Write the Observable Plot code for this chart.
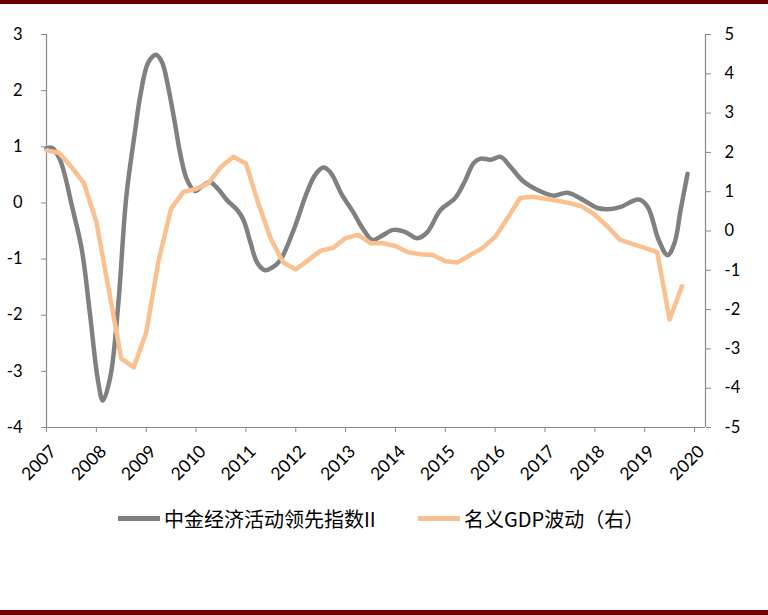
<!DOCTYPE html>
<html><head><meta charset="utf-8">
<script src="https://cdn.jsdelivr.net/npm/d3@7"></script>
<script src="https://cdn.jsdelivr.net/npm/@observablehq/plot@0.6"></script>
<style>
body{margin:0;background:#fff;}
#wrap{position:relative;width:768px;height:615px;overflow:hidden;background:#fff;}
.bar{position:absolute;left:0;width:768px;background:#6b0000;}
#chart{position:absolute;left:0;top:0;}
#legend{position:absolute;top:505px;left:0;width:768px;height:26px;font-family:"Noto Sans CJK SC",sans-serif;font-size:20px;color:#000;}
.item{position:absolute;top:0;display:flex;align-items:center;height:26px;white-space:nowrap;}
.sw{width:42px;height:5px;margin-right:4px;}
</style></head>
<body><div id="wrap"><div id="chart"></div><div id="legend"></div>
<div class="bar" style="top:0;height:4px"></div><div class="bar" style="top:610px;height:5px"></div></div>
<script>
// 中金经济活动领先指数II (left axis)
const leadYears = [2007.00,2007.11,2007.27,2007.53,2007.71,2007.87,2008.03,2008.13,2008.28,2008.44,2008.60,2008.78,2008.88,2009.04,2009.20,2009.32,2009.44,2009.58,2009.68,2009.82,2009.98,2010.12,2010.28,2010.44,2010.62,2010.83,2010.95,2011.09,2011.23,2011.39,2011.53,2011.69,2011.95,2012.23,2012.39,2012.55,2012.69,2012.93,2013.15,2013.34,2013.54,2013.70,2013.96,2014.20,2014.44,2014.64,2014.90,2015.20,2015.40,2015.57,2015.71,2015.91,2016.11,2016.31,2016.57,2016.85,2017.17,2017.45,2017.77,2018.05,2018.32,2018.52,2018.88,2019.06,2019.28,2019.46,2019.60,2019.72,2019.86];
const leadValues = [0.97,0.98,0.77,-0.13,-0.84,-1.96,-3.15,-3.52,-3.1,-1.8,0.1,1.3,1.9,2.5,2.64,2.5,2.07,1.4,0.89,0.41,0.21,0.30,0.37,0.25,0.05,-0.13,-0.3,-0.7,-1.07,-1.2,-1.15,-1.02,-0.5,0.2,0.5,0.63,0.55,0.14,-0.16,-0.45,-0.66,-0.60,-0.48,-0.52,-0.63,-0.52,-0.13,0.09,0.40,0.71,0.79,0.77,0.82,0.64,0.38,0.23,0.13,0.18,0.05,-0.09,-0.11,-0.07,0.06,-0.07,-0.66,-0.93,-0.71,-0.13,0.52];
// 名义GDP波动（右） quarterly 2007Q1–2019Q4 (right axis)
const gdpQuarters = d3.range(2007, 2020).flatMap(y => [1,2,3,4].map(q => `${y}Q${q}`));
const gdpValues = [2.05,1.99,1.63,1.22,0.23,-1.5,-3.24,-3.47,-2.58,-0.75,0.57,1.0,1.07,1.22,1.63,1.89,1.72,0.7,-0.2,-0.8,-0.98,-0.74,-0.5,-0.43,-0.18,-0.10,-0.31,-0.31,-0.38,-0.54,-0.59,-0.61,-0.77,-0.80,-0.61,-0.43,-0.15,0.33,0.84,0.87,0.82,0.77,0.71,0.62,0.41,0.12,-0.22,-0.33,-0.43,-0.54,-2.25,-1.4];
const xTicks = d3.range(2007, 2021);
const leftTicks = d3.range(-4, 4);
const rightTicks = d3.range(-5, 6);
const seriesNames = ["中金经济活动领先指数II", "名义GDP波动（右）"];
const seriesColors = ["#808080", "#fac090"];

const toLeft = v => -4 + (v + 5) * 0.7;
const toRight = l => (l + 4) / 0.7 - 5;
const qToYear = q => +q.slice(0,4) + (+q.slice(5) - 1) / 4;

const lead = leadYears.map((x, i) => ({x, y: leadValues[i]}));
const gdp = gdpQuarters.slice(0, gdpValues.length).map((q, i) => ({x: qToYear(q), y: toLeft(gdpValues[i])}));
const axisColor = "#898989";
const xMax = 2020.22;

const chart = Plot.plot({
  width: 768, height: 480,
  marginLeft: 46, marginRight: 63, marginTop: 34, marginBottom: 53,
  x: {domain: [2007, xMax]},
  y: {domain: [-4, 3]},
  style: {fontFamily: "Lato, 'Liberation Sans', sans-serif", fontSize: "16.5px", color: "#000", background: "transparent", overflow: "visible"},
  marks: [
    Plot.ruleX([2007, xMax], {y1: -4, y2: 3, stroke: axisColor, strokeWidth: 1.2}),
    Plot.ruleY([-4], {stroke: axisColor, strokeWidth: 1.2}),
    Plot.axisX({ticks: xTicks, tickFormat: () => "", tickSize: 5, stroke: axisColor, label: null}),
    Plot.axisX({ticks: xTicks, tickFormat: d => String(d), tickRotate: -45, tickSize: 0, tickPadding: 21, dx: 7, fill: "#000", fontSize: 17.5, label: null}),
    Plot.axisY({ticks: leftTicks, tickFormat: d => String(d), anchor: "left", tickSize: 5, tickPadding: 19, stroke: axisColor, fill: "#000", label: null}),
    Plot.axisY(rightTicks.map(toLeft), {anchor: "right", tickFormat: d => String(Math.round(toRight(d))), tickSize: 5, tickPadding: 14, stroke: axisColor, fill: "#000", textAnchor: "start", label: null}),
    Plot.line(lead, {x: "x", y: "y", stroke: seriesColors[0], strokeWidth: 4.5, curve: "catmull-rom"}),
    Plot.line(gdp, {x: "x", y: "y", stroke: seriesColors[1], strokeWidth: 4.5, strokeLinejoin: "round"})
  ]
});
document.getElementById("chart").appendChild(chart);

const legend = document.getElementById("legend");
const lefts = [118, 418];
seriesNames.forEach((name, i) => {
  const it = document.createElement("div");
  it.className = "item";
  it.style.left = lefts[i] + "px";
  it.innerHTML = `<div class="sw" style="background:${seriesColors[i]}"></div><span>${name}</span>`;
  legend.appendChild(it);
});
</script></body></html>
